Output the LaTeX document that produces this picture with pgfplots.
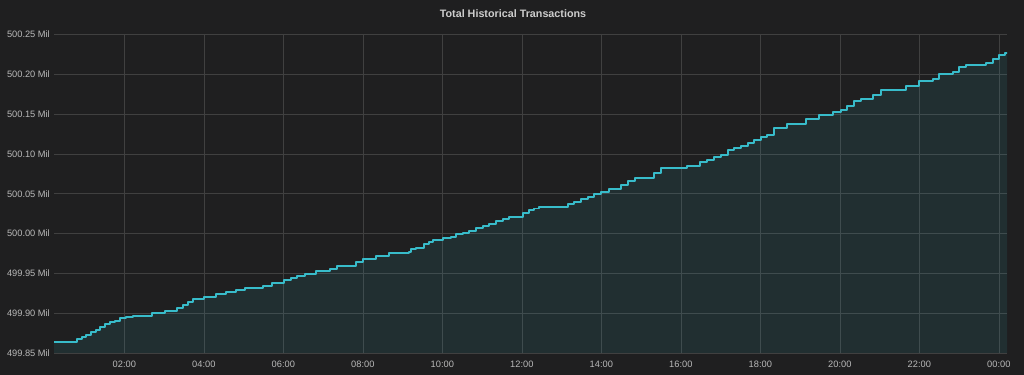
\documentclass[border=0pt]{standalone}
\usepackage{pgfplots}
\pgfplotsset{compat=1.18}
\usepackage{pgfplotstable}
\usepackage{fontspec}
\setmainfont{Liberation Sans}
\definecolor{bgc}{RGB}{31,31,32}
\definecolor{linec}{RGB}{56,188,202}
\definecolor{gridc}{RGB}{64,64,64}
\definecolor{labelc}{RGB}{185,185,185}
\definecolor{titlec}{RGB}{205,205,205}
\pgfplotstableread{
h v
0.231 499.8642
0.810 499.8672
0.936 499.8697
1.036 499.8726
1.162 499.8760
1.288 499.8789
1.389 499.8830
1.514 499.8864
1.640 499.8886
1.766 499.8906
1.892 499.8936
2.043 499.8956
2.219 499.8968
2.697 499.8999
3.024 499.9027
3.326 499.9061
3.477 499.9103
3.603 499.9137
3.728 499.9174
4.005 499.9207
4.307 499.9237
4.558 499.9262
4.810 499.9291
5.036 499.9320
5.489 499.9345
5.716 499.9375
6.018 499.9417
6.194 499.9438
6.345 499.9467
6.546 499.9488
6.823 499.9530
7.175 499.9555
7.351 499.9589
7.829 499.9643
8.005 499.9681
8.332 499.9718
8.659 499.9752
9.162 499.9772
9.213 499.9802
9.338 499.9822
9.540 499.9869
9.665 499.9898
9.766 499.9919
10.018 499.9941
10.219 499.9961
10.345 499.9991
10.521 500.0011
10.672 500.0036
10.848 500.0066
11.024 500.0095
11.175 500.0116
11.351 500.0158
11.527 500.0179
11.678 500.0204
12.030 500.0255
12.181 500.0296
12.307 500.0315
12.433 500.0337
13.162 500.0368
13.313 500.0400
13.489 500.0434
13.665 500.0463
13.816 500.0497
13.992 500.0526
14.194 500.0560
14.496 500.0610
14.672 500.0660
14.848 500.0694
15.326 500.0757
15.502 500.0820
16.156 500.0849
16.483 500.0895
16.659 500.0924
16.835 500.0958
17.011 500.0987
17.187 500.1050
17.338 500.1071
17.514 500.1100
17.690 500.1134
17.842 500.1175
18.018 500.1209
18.169 500.1238
18.345 500.1322
18.672 500.1380
19.150 500.1435
19.477 500.1489
19.829 500.1523
20.030 500.1552
20.181 500.1602
20.357 500.1661
20.533 500.1686
20.835 500.1740
21.036 500.1807
21.665 500.1857
21.992 500.1912
22.345 500.1941
22.496 500.2008
22.848 500.2033
22.999 500.2088
23.175 500.2113
23.678 500.2138
23.854 500.2192
24.005 500.2239
24.156 500.2264
24.206 500.2268
}\datatable
\begin{document}
\begin{tikzpicture}
\fill[bgc] (0,0) rectangle (1024bp,375bp);
\node[font=\bfseries\fontsize{10.8}{12}\selectfont, text=titlec] at (513bp,361bp) {Total Historical Transactions};
\begin{axis}[
  at={(54bp,22bp)}, anchor=south west,
  scale only axis, width=953bp, height=318.5bp,
  xmin=0.231, xmax=24.206,
  ymin=499.85, ymax=500.25,
  axis line style={draw=none},
  major tick length=0pt,
  grid=major,
  grid style={gridc, line width=0.6bp},
  xtick={2,4,6,8,10,12,14,16,18,20,22,24},
  xticklabels={02:00,04:00,06:00,08:00,10:00,12:00,14:00,16:00,18:00,20:00,22:00,00:00},
  ytick={499.85,499.90,499.95,500.00,500.05,500.10,500.15,500.20,500.25},
  yticklabels={499.85 Mil,499.90 Mil,499.95 Mil,500.00 Mil,500.05 Mil,500.10 Mil,500.15 Mil,500.20 Mil,500.25 Mil},
  yticklabel style={font=\fontsize{9.3}{11}\selectfont, text=labelc, inner sep=0pt, anchor=east, xshift=-4bp},
  xticklabel style={font=\fontsize{9.3}{11}\selectfont, text=labelc, inner sep=0pt, anchor=north, yshift=-7.5bp},
  clip=true,
]
\addplot[const plot, fill=linec, fill opacity=0.1, draw=none] table[x=h,y=v] {\datatable} \closedcycle;
\addplot[const plot, linec, line width=1.8bp, line join=round, line cap=round] table[x=h,y=v] {\datatable};
\end{axis}
\end{tikzpicture}
\end{document}
